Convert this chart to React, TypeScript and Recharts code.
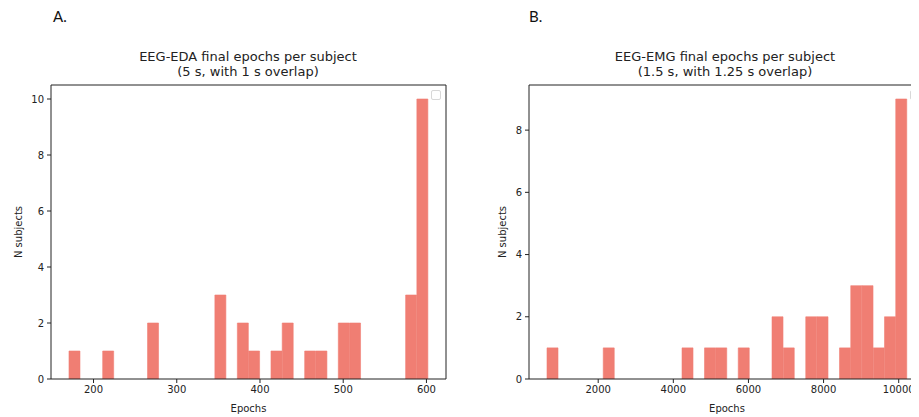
import { Bar, BarChart, Legend, ReferenceLine, XAxis, YAxis } from "recharts";

// histogram bins (bin centre in epochs) and subject counts per bin
const edaBins = [
	177.2, 190.7, 204.2, 217.7, 231.2, 244.6, 258.1, 271.6, 285.1, 298.6, 312.1,
	325.5, 339.0, 352.5, 366.0, 379.5, 393.0, 406.4, 419.9, 433.4, 446.9, 460.4,
	473.9, 487.3, 500.8, 514.3, 527.8, 541.3, 554.8, 568.2, 581.7, 595.2,
];
const edaCounts = [
	1, 0, 0, 1, 0, 0, 0, 2, 0, 0, 0, 0, 0, 3, 0, 2, 1, 0, 1, 2, 0, 1, 1, 0, 2, 2,
	0, 0, 0, 0, 3, 10,
];

const emgBins = [
	787, 1086, 1386, 1685, 1985, 2284, 2584, 2883, 3183, 3482, 3782, 4081, 4381,
	4680, 4980, 5279, 5579, 5878, 6178, 6477, 6777, 7076, 7376, 7675, 7975, 8274,
	8574, 8873, 9173, 9472, 9772, 10071,
];
const emgCounts = [
	1, 0, 0, 0, 0, 1, 0, 0, 0, 0, 0, 0, 1, 0, 1, 1, 0, 1, 0, 0, 2, 1, 0, 2, 2, 0,
	1, 3, 3, 1, 2, 9,
];

const edaTicksX = [200, 300, 400, 500, 600];
const edaTicksY = [0, 2, 4, 6, 8, 10];
const emgTicksX = [2000, 4000, 6000, 8000, 10000];
const emgTicksY = [0, 2, 4, 6, 8];

const BAR_COLOR = "#f07e73";
const INK = "#222";
const FONT = "'DejaVu Sans', sans-serif";

const toRows = (bins: number[], counts: number[]) =>
	bins.map((b, i) => ({ epochs: b, n: counts[i] }));

const EmptyLegend = () => (
	<div
		style={{
			width: 8,
			height: 8,
			border: "1px solid #d8d8d8",
			borderRadius: 2,
			background: "#fff",
		}}
	/>
);

interface HistProps {
	data: { epochs: number; n: number }[];
	xDomain: [number, number];
	yDomain: [number, number];
	xTicks: number[];
	yTicks: number[];
	width: number;
	yAxisWidth: number;
	marginRight: number;
	labelOffset: number;
	legendLeft: number;
}

function Histogram({
	data,
	xDomain,
	yDomain,
	xTicks,
	yTicks,
	width,
	yAxisWidth,
	marginRight,
	labelOffset,
	legendLeft,
}: HistProps) {
	const tick = { fontSize: 10, fill: INK, fontFamily: FONT };
	return (
		<BarChart
			width={width}
			height={409}
			data={data}
			margin={{ top: 77, right: marginRight, left: 0, bottom: 5 }}
			barCategoryGap={0}
			barGap={0}
		>
			<XAxis
				dataKey="epochs"
				type="number"
				domain={xDomain}
				ticks={xTicks}
				allowDataOverflow
				height={33}
				tick={tick}
				tickSize={4}
				tickMargin={3}
				stroke={INK}
				label={{
					value: "Epochs",
					position: "insideBottom",
					offset: 0,
					style: { fontSize: 10, fill: INK, fontFamily: FONT },
				}}
			/>
			<YAxis
				type="number"
				domain={yDomain}
				ticks={yTicks}
				allowDataOverflow
				width={yAxisWidth}
				tick={tick}
				tickSize={4}
				tickMargin={3}
				stroke={INK}
				label={{
					value: "N subjects",
					angle: -90,
					position: "insideLeft",
					offset: labelOffset,
					style: { fontSize: 10, fill: INK, fontFamily: FONT, textAnchor: "middle" },
				}}
			/>
			{/* stroke in the fill colour hides the seams between adjacent bins */}
			<Bar
				dataKey="n"
				fill={BAR_COLOR}
				stroke={BAR_COLOR}
				strokeWidth={0.6}
				isAnimationActive={false}
			/>
			{/* top and right spines of the matplotlib-style box */}
			<ReferenceLine y={yDomain[1]} stroke={INK} />
			<ReferenceLine x={xDomain[1]} stroke={INK} />
			<Legend
				layout="vertical"
				align="center"
				verticalAlign="middle"
				wrapperStyle={{ left: legendLeft, top: 82, width: 10, height: 10 }}
				content={() => <EmptyLegend />}
			/>
		</BarChart>
	);
}

const titleStyle: React.CSSProperties = {
	position: "absolute",
	top: 41,
	width: 400,
	textAlign: "center",
	fontFamily: FONT,
	fontSize: 13,
	lineHeight: "15px",
	color: INK,
};

const panelStyle: React.CSSProperties = {
	position: "absolute",
	top: -2,
	fontFamily: "Lato, 'Open Sans', sans-serif",
	fontSize: 15,
	lineHeight: "20px",
	color: "#111",
};

export default function App() {
	return (
		<div
			style={{
				position: "relative",
				width: 911,
				height: 409,
				overflow: "hidden",
				background: "#fff",
			}}
		>
			<div style={{ ...panelStyle, left: 45 }}>A.</div>
			<div style={{ ...panelStyle, left: 521 }}>B.</div>

			<div style={{ ...titleStyle, left: 40 }}>
				EEG-EDA final epochs per subject
				<br />
				(5 s, with 1 s overlap)
			</div>
			<div style={{ ...titleStyle, left: 517 }}>
				EEG-EMG final epochs per subject
				<br />
				(1.5 s, with 1.25 s overlap)
			</div>

			<div style={{ position: "absolute", left: 0, top: 0 }}>
				<Histogram
					data={toRows(edaBins, edaCounts)}
					xDomain={[148.9, 623.5]}
					yDomain={[0, 10.5]}
					xTicks={edaTicksX}
					yTicks={edaTicksY}
					width={450}
					yAxisWidth={43}
					marginRight={12}
					labelOffset={10}
					legendLeft={423}
				/>
			</div>
			<div style={{ position: "absolute", left: 470, top: 0 }}>
				<Histogram
					data={toRows(emgBins, emgCounts)}
					xDomain={[158, 10700]}
					yDomain={[0, 9.45]}
					xTicks={emgTicksX}
					yTicks={emgTicksY}
					width={460}
					yAxisWidth={51}
					marginRight={13}
					labelOffset={24}
					legendLeft={432}
				/>
			</div>
		</div>
	);
}
